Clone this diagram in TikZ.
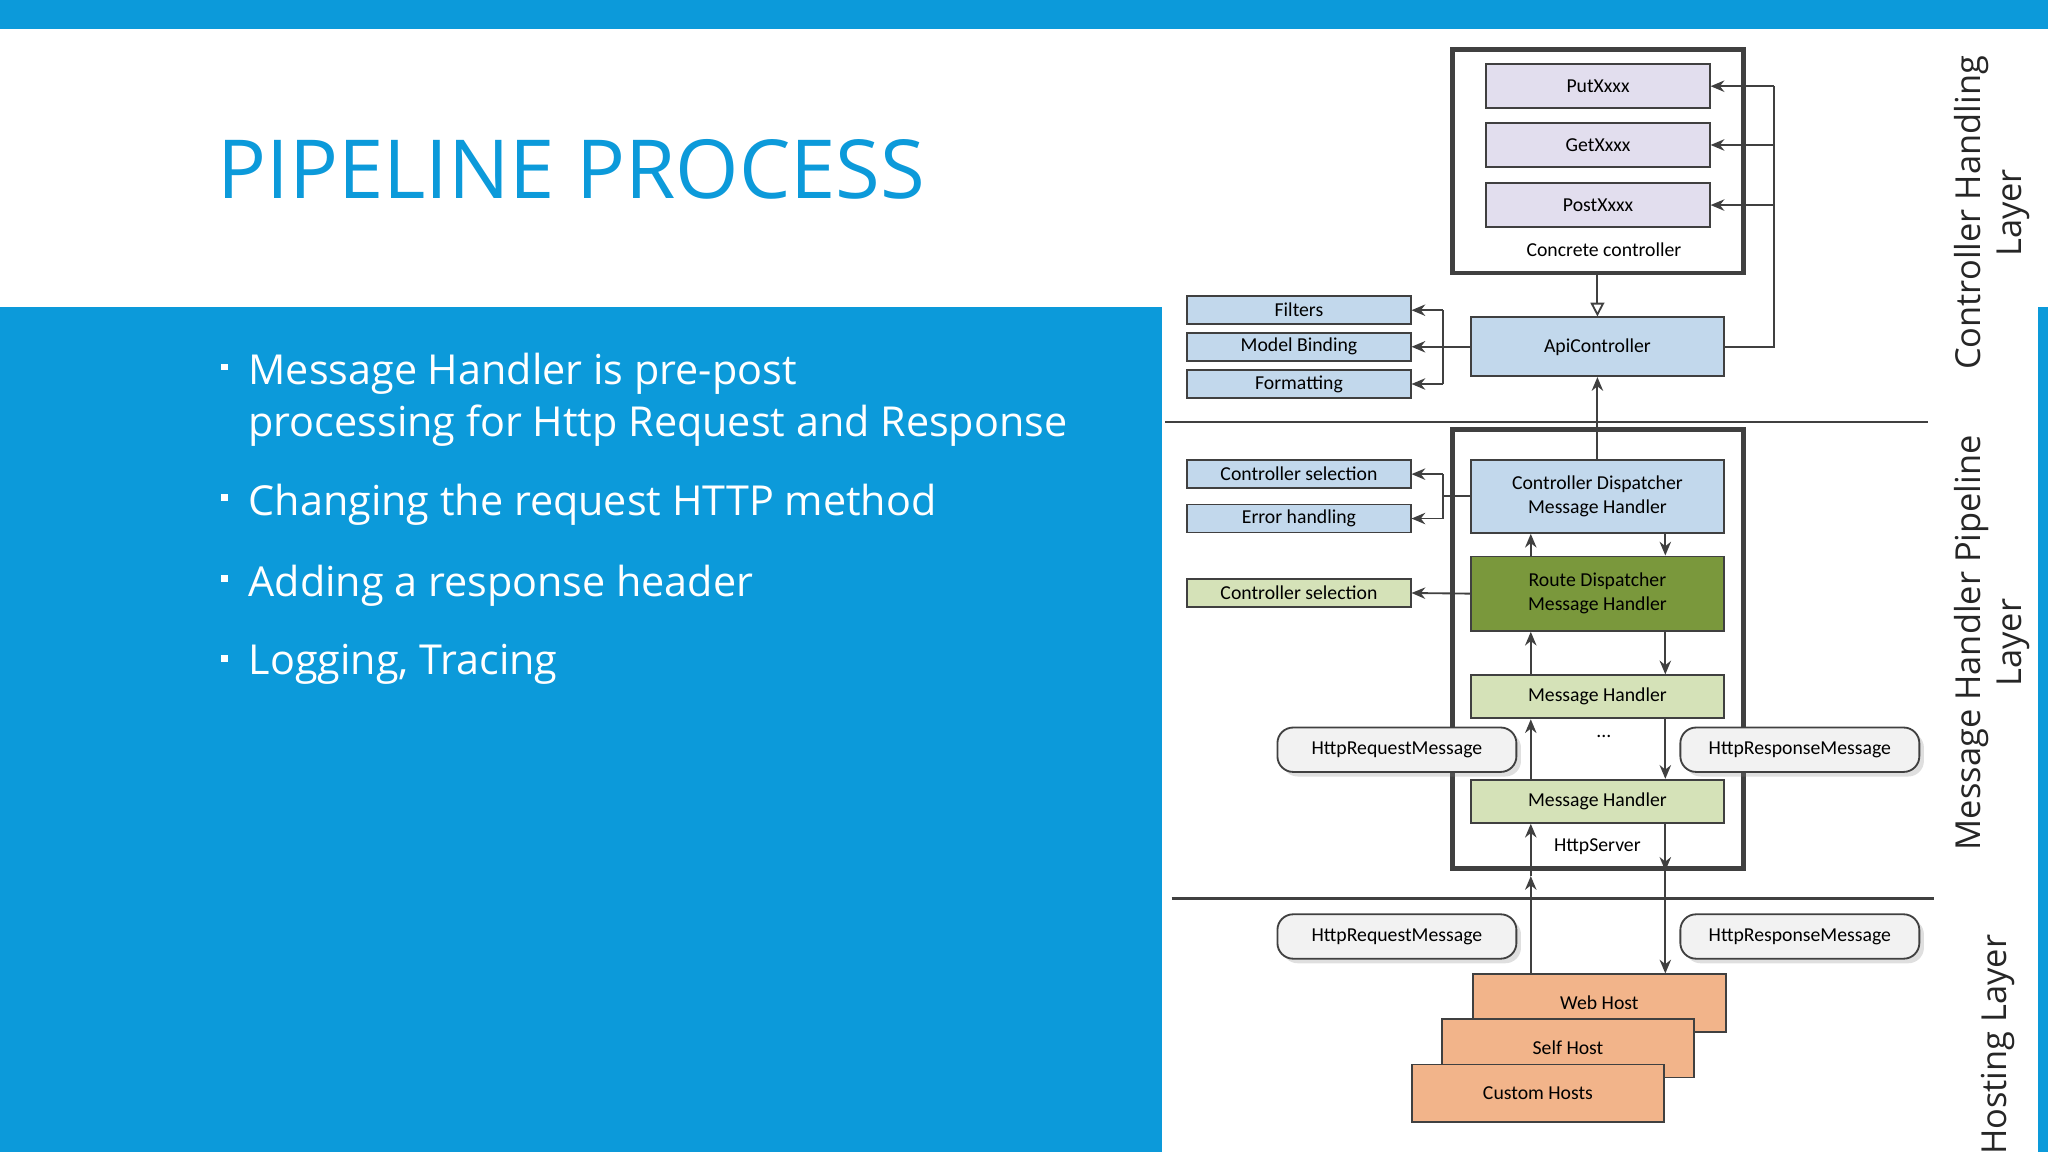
\documentclass[tikz,border=0pt]{standalone}
\usepackage{fontspec}
\setmainfont{Open Sans}
\newfontfamily\diag{Carlito}
\usetikzlibrary{arrows.meta,calc,shadows}
\definecolor{theme}{RGB}{12,154,218}
\definecolor{lav}{RGB}{226,222,238}
\definecolor{lblue}{RGB}{194,216,236}
\definecolor{olive}{RGB}{122,152,60}
\definecolor{lgreen}{RGB}{213,226,184}
\definecolor{orng}{RGB}{242,180,138}
\definecolor{bubble}{RGB}{242,242,242}
\definecolor{edge}{RGB}{64,64,64}
\begin{document}
\begin{tikzpicture}[x=0.02cm,y=-0.02cm,
  box/.style={draw=edge, line width=0.8pt, font=\diag\fontsize{8.6}{10.5}\selectfont, align=center, inner sep=0pt},
  small/.style={box, minimum width=3.42cm, minimum height=0.43cm, fill=lblue},
  big/.style={box, minimum width=3.88cm, fill=lblue},
  meth/.style={box, minimum width=3.42cm, minimum height=0.68cm, fill=lav},
  msg/.style={box, rounded corners=0.24cm, minimum width=3.66cm, minimum height=0.68cm, fill=bubble, drop shadow={opacity=0.25, shadow xshift=2pt, shadow yshift=-2pt}},
  host/.style={box, minimum width=3.88cm, minimum height=0.88cm, fill=orng},
  frame/.style={draw=edge, line width=2pt},
  arr/.style={draw=edge, line width=0.8pt, -{Stealth[length=6pt,width=5pt]}},
  side/.style={font=\fontsize{15}{18}\selectfont, rotate=90, align=center, text=black!85}
]
\useasboundingbox (0,0) rectangle (1568,882);
% background
\fill[theme] (0,0) rectangle (1568,22);
\fill[theme] (0,235) rectangle (890,882);
\fill[theme] (1560,235) rectangle (1568,882);
\node[anchor=base west, text=theme, font=\fontsize{35.5}{40}\selectfont, inner sep=0pt] (title) at (166,152) {PIPELINE PROCESS};
% bullets
\foreach \y/\t [count=\i] in {283/{Message Handler is pre-post\\processing for Http Request and Response},383/{Changing the request HTTP method},445/{Adding a response header},506/{Logging, Tracing}}{
  \node[fill=white, minimum size=3pt, inner sep=0pt] (b\i) at (172,\y-2) {};
  \node[anchor=north west, text=white, font=\fontsize{18}{22.5}\selectfont, align=left, inner sep=0pt] (t\i) at (190,\y-13) {\t};
}
% controller handling layer
\node[frame, minimum width=4.46cm, minimum height=3.42cm, inner sep=0pt] (cc) at (1223.5,123.5) {};
\node[meth] (put) at (1223.5,66) {PutXxxx};
\node[meth] (get) at (1223.5,111) {GetXxxx};
\node[meth] (post) at (1223.5,157) {PostXxxx};
\node[font=\diag\fontsize{8.6}{10.5}\selectfont] (cclab) at (1228,191) {Concrete controller};
\node[big, minimum height=0.9cm] (api) at (1223,265.5) {ApiController};
\node[small] (filters) at (994.5,237.5) {Filters};
\node[small] (mb) at (994.5,265.5) {Model Binding};
\node[small] (fmt) at (994.5,294) {Formatting};
\coordinate (rx) at (1358,0);
\coordinate (lx) at (1105,0);
\draw[draw=edge, line width=0.8pt] (api.east) -- (api.east -| rx) -- (put.east -| rx);
\draw[arr] (put.east -| rx) -- (put.east);
\draw[arr] (get.east -| rx) -- (get.east);
\draw[arr] (post.east -| rx) -- (post.east);
\draw[draw=edge, line width=0.8pt, -{Triangle[open,length=6pt,width=6pt]}] (cc.south -| api.north) -- (api.north);
\draw[arr] (api.west) -- (mb.east);
\draw[draw=edge, line width=0.8pt] (filters.east -| lx) -- (fmt.east -| lx);
\draw[arr] (filters.east -| lx) -- (filters.east);
\draw[arr] (fmt.east -| lx) -- (fmt.east);
\draw[draw=edge, line width=1pt] (892,323) -- (1476,323);
% message handler pipeline layer
\node[frame, minimum width=4.46cm, minimum height=6.72cm, inner sep=0pt] (mp) at (1223.5,497) {};
\node[big, minimum height=1.12cm] (cdmh) at (1223,380) {Controller Dispatcher\\Message Handler};
\node[small] (cs1) at (994.5,363) {Controller selection};
\node[small] (eh) at (994.5,397) {Error handling};
\node[big, minimum height=1.14cm, fill=olive] (rdmh) at (1223,454.5) {Route Dispatcher\\Message Handler};
\node[small, fill=lgreen] (cs2) at (994.5,454) {Controller selection};
\node[big, minimum height=0.66cm, fill=lgreen] (mh1) at (1223,533.5) {Message Handler};
\node[big, minimum height=0.66cm, fill=lgreen] (mh2) at (1223,613.5) {Message Handler};
\node[font=\diag\fontsize{8.6}{10.5}\selectfont] (dots) at (1228,564) {...};
\node[font=\diag\fontsize{8.6}{10.5}\selectfont] (hs) at (1223,648) {HttpServer};
\draw[arr] (cdmh.north) -- (api.south);
\draw[draw=edge, line width=0.8pt] (cdmh.west) -- (cdmh.west -| lx);
\draw[draw=edge, line width=0.8pt] (cs1.east -| lx) -- (eh.east -| lx);
\draw[arr] (cs1.east -| lx) -- (cs1.east);
\draw[arr] (eh.east -| lx) -- (eh.east);
\draw[arr] (rdmh.west) -- (cs2.east);
\coordinate (u) at (1172,0);
\coordinate (d) at (1275,0);
\draw[arr] (rdmh.north -| u) -- (cdmh.south -| u);
\draw[arr] (cdmh.south -| d) -- (rdmh.north -| d);
\draw[arr] (mh1.north -| u) -- (rdmh.south -| u);
\draw[arr] (rdmh.south -| d) -- (mh1.north -| d);
\draw[arr] (mh2.north -| u) -- (mh1.south -| u);
\draw[arr] (mh1.south -| d) -- (mh2.north -| d);
\node[msg] (req1) at (1069.5,574) {HttpRequestMessage};
\node[msg] (resp1) at (1378,574) {HttpResponseMessage};
\draw[draw=edge, line width=1pt] (897,688) -- (1481,688);
% hosting layer
\node[host] (web) at (1224.5,768) {Web Host};
\node[host, minimum width=3.86cm, minimum height=0.9cm] (self) at (1200.5,802.5) {Self Host};
\node[host, minimum width=3.86cm] (custom) at (1177.5,837) {Custom Hosts};
\node[msg] (req2) at (1069.5,717) {HttpRequestMessage};
\node[msg] (resp2) at (1378,717) {HttpResponseMessage};
\draw[arr] (web.north -| u) -- ($(mp.south -| u)+(0,4)$);
\draw[arr] ($(mp.south -| u)+(0,4)$) -- (mh2.south -| u);
\draw[arr] (mh2.south -| d) -- (mp.south -| d);
\draw[arr] (mp.south -| d) -- (web.north -| d);
% layer labels
\node[side] (l1) at (1525,163) {Controller Handling\\Layer};
\node[side] (l2) at (1525,492) {Message Handler Pipeline\\Layer};
\node[side] (l3) at (1530,800) {Hosting Layer};
\end{tikzpicture}
\end{document}
